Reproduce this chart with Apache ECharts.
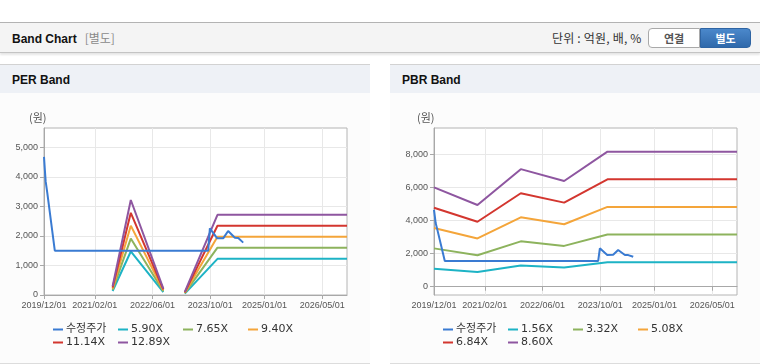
<!DOCTYPE html>
<html><head><meta charset="utf-8">
<script src="https://cdn.jsdelivr.net/npm/echarts@6/dist/echarts.min.js"></script>
<style>
html,body{margin:0;padding:0;width:760px;height:364px;overflow:hidden;background:#fff;font-family:"Liberation Sans","Noto Sans CJK KR",sans-serif;}
.abs{position:absolute;}
#topline{left:0;top:22px;width:760px;height:1px;background:#b3b3b3;}
#hdr{left:0;top:23px;width:760px;height:29px;background:#f4f4f4;border-bottom:1px solid #c4c4c4;box-shadow:0 2px 2px rgba(0,0,0,0.10);}
#ttl{left:12px;top:30px;font-size:12px;font-weight:bold;color:#111;line-height:16px;}
#ttl span{font-weight:normal;color:#8a8a8a;margin-left:8px;font-family:"Noto Sans CJK KR",sans-serif;}
#unit{left:552px;top:30px;font-size:12px;color:#333;line-height:16px;font-family:"Noto Sans CJK KR",sans-serif;letter-spacing:0.2px;}
.btn{top:28px;height:18px;width:50px;font-size:11px;font-weight:bold;text-align:center;line-height:18px;font-family:"Noto Sans CJK KR",sans-serif;}
#b1{left:648px;background:#fff;border:1px solid #a9a9a9;border-radius:4px 0 0 4px;color:#555;width:50px;}
#b2{left:700px;background:linear-gradient(#4b88cb,#2f69ab);border:1px solid #2e64a3;border-radius:0 4px 4px 0;color:#fff;width:49px;}
.panel{top:64px;width:370px;height:298px;background:#fcfcfc;border-top:1px solid #d2d2d2;border-bottom:2px solid #dcdcdc;}
.phdr{left:0;top:0;width:370px;height:28px;background:#eef1f6;}
.ptitle{left:12px;top:7px;font-size:12px;font-weight:bold;color:#111;line-height:16px;}
#chart{left:0;top:0;width:760px;height:364px;}
</style></head>
<body>
<div id="topline" class="abs"></div>
<div id="hdr" class="abs"></div>
<div id="ttl" class="abs">Band Chart<span>[별도]</span></div>
<div id="unit" class="abs">단위 : 억원, 배, %</div>
<div id="b1" class="abs btn">연결</div>
<div id="b2" class="abs btn">별도</div>
<div class="abs panel" style="left:0"><div class="abs phdr"></div><div class="abs ptitle">PER Band</div></div>
<div class="abs panel" style="left:390px"><div class="abs phdr"></div><div class="abs ptitle">PBR Band</div></div>
<div id="chart" class="abs"></div>
<script>
// ---- data ----
const tickLabels = ['2019/12/01','2021/02/01','2022/06/01','2023/10/01','2025/01/01','2026/05/01'];
const xMin = '2019/12/01';
const xMax = '2026/11/26';

const priceName = '수정주가';
const priceDates = ['2019/12/01','2019/12/08','2019/12/15','2019/12/29','2020/03/01','2023/09/14','2023/09/28','2023/11/29','2024/01/18','2024/02/29','2024/04/26','2024/05/24','2024/07/05'];
const perPrice = [4680,4250,3850,3450,1500,1500,2260,1920,1920,2170,1940,1930,1775];
const pbrPrice = [4640,4250,3850,3450,1560,1560,2320,1920,1930,2220,1920,1910,1810];

const perBandDates = ['2021/07/01','2021/12/01','2022/09/01','2022/12/01','2023/03/01','2023/12/01','2026/11/26'];
const perBandNames = ['5.90X','7.65X','9.40X','11.14X','12.89X'];
const per590  = [136,1475,100,null,47,1225,1225];
const per765  = [176,1913,130,null,61,1605,1605];
const per940  = [216,2350,160,null,75,1975,1975];
const per1114 = [256,2785,189,null,89,2345,2345];
const per1289 = [296,3220,219,null,103,2718,2718];

const pbrBandDates = ['2019/12/01','2020/12/01','2021/12/01','2022/12/01','2023/12/01','2026/11/26'];
const pbrBandNames = ['1.56X','3.32X','5.08X','6.84X','8.60X'];
const pbr156 = [1089,895,1289,1159,1480,1480];
const pbr332 = [2317,1906,2742,2467,3151,3151];
const pbr508 = [3546,2916,4196,3774,4821,4821];
const pbr684 = [4774,3926,5650,5082,6491,6491];
const pbr860 = [6003,4936,7104,6390,8161,8161];

const perTicks = [0,1000,2000,3000,4000,5000];
const pbrTicks = [0,2000,4000,6000,8000];
const perRange = [0,5660];
const pbrRange = [-500,9590];

const colors = ['#3a7bd2','#1db3c5','#8db35d','#f4a53a','#d3362f','#8e56a0'];

// ---- build ----
const ts = s => new Date(s).getTime();
const tickTs = tickLabels.map(ts);
const pairs = (dates, vals) => dates.map((d,i)=>[ts(d), vals[i] == null ? '-' : vals[i]]);
const fmtNum = v => Number(v).toLocaleString('en-US');
const labelFont = {fontFamily:'Liberation Sans', fontSize:9, color:'#555'};

function xAxisFor(gi){
  return {type:'value', gridIndex:gi, min:ts(xMin), max:ts(xMax),
    axisLine:{lineStyle:{color:'#a8a8a8'}},
    axisTick:{show:true, length:4, lineStyle:{color:'#a8a8a8'}, customValues:tickTs},
    axisLabel:Object.assign({customValues:tickTs, margin:6, hideOverlap:false,
      formatter:(v)=>{const i=tickTs.indexOf(v); return i>=0?tickLabels[i]:'';}}, labelFont),
    splitLine:{show:true, lineStyle:{color:'#e8e8e8'}}};
}
function yAxisFor(gi, range, ticks){
  return {type:'value', gridIndex:gi, min:range[0], max:range[1],
    axisLine:{show:true, lineStyle:{color:'#a8a8a8'}},
    axisTick:{show:true, length:4, lineStyle:{color:'#a8a8a8'}, customValues:ticks},
    axisLabel:Object.assign({customValues:ticks, margin:6, formatter:fmtNum}, labelFont),
    splitLine:{show:true, lineStyle:{color:'#e8e8e8'}}};
}
function line(name, data, gi, color, z){
  return {name, type:'line', xAxisIndex:gi, yAxisIndex:gi, data, showSymbol:false, symbol:'none',
    connectNulls:false, color, lineStyle:{width:2, color}, z:z||2, animation:false};
}
const perBandVals = [per590,per765,per940,per1114,per1289];
const pbrBandVals = [pbr156,pbr332,pbr508,pbr684,pbr860];

const series = [];
series.push(line(priceName, pairs(priceDates, perPrice), 0, colors[0], 3));
perBandNames.forEach((n,i)=>series.push(line(n, pairs(perBandDates, perBandVals[i]), 0, colors[i+1])));
series.push(line(priceName, pairs(priceDates, pbrPrice), 1, colors[0], 3));
pbrBandNames.forEach((n,i)=>series.push(line(n, pairs(pbrBandDates, pbrBandVals[i]), 1, colors[i+1])));

// one legend per item, laid out in 4 fixed columns
function legendsFor(left0, names){
  return names.map((n,i)=>({
    left: left0 + (i%4)*65, top: 324 + Math.floor(i/4)*13,
    orient:'horizontal', itemWidth:10, itemHeight:2, itemGap:0, icon:'rect',
    data:[n], selectedMode:false, padding:0,
    textStyle:{fontFamily:'DejaVu Sans, Noto Sans CJK KR', fontSize:11, color:'#333', padding:[0,0,0,-2]}
  }));
}

const chart = echarts.init(document.getElementById('chart'), null, {renderer:'canvas'});
chart.setOption({
  animation:false,
  color:colors,
  grid:[
    {left:44, top:128, width:303, height:167, show:true, backgroundColor:'#fff', borderColor:'#b4b4b4', borderWidth:1},
    {left:434, top:128, width:303, height:167, show:true, backgroundColor:'#fff', borderColor:'#b4b4b4', borderWidth:1}
  ],
  xAxis:[xAxisFor(0), xAxisFor(1)],
  yAxis:[yAxisFor(0, perRange, perTicks), yAxisFor(1, pbrRange, pbrTicks)],
  legend: legendsFor(53, [priceName].concat(perBandNames)).concat(legendsFor(443, [priceName].concat(pbrBandNames))),
  graphic:[
    {type:'text', left:29, top:112, style:{text:'(원)', fontSize:11, fontFamily:'Noto Sans CJK KR', fill:'#555'}},
    {type:'text', left:417, top:112, style:{text:'(원)', fontSize:11, fontFamily:'Noto Sans CJK KR', fill:'#555'}}
  ],
  series
});
</script>
</body></html>
